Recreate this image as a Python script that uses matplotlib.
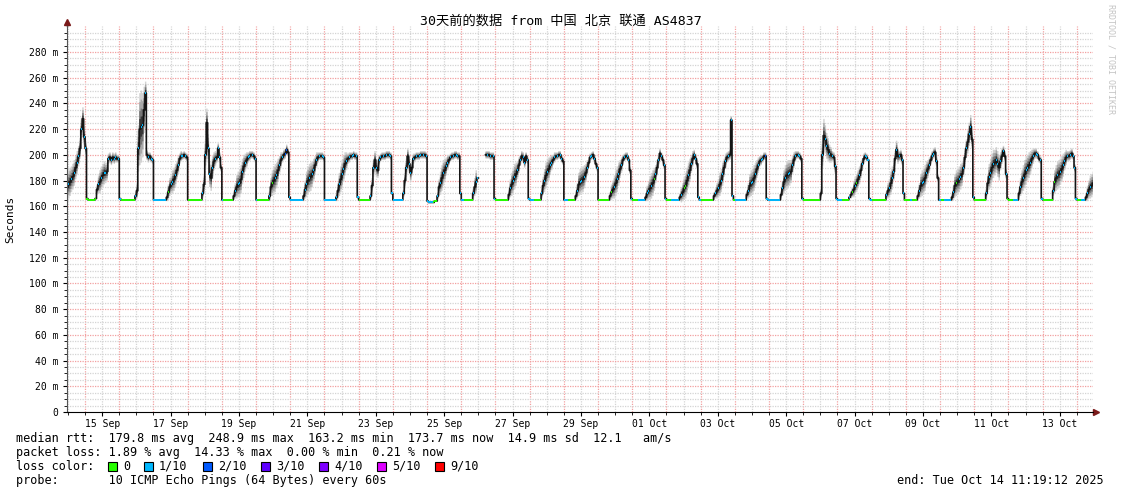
import numpy as np
import pandas as pd
import matplotlib
matplotlib.use('Agg')
import matplotlib.pyplot as plt
import matplotlib.dates as mdates
from matplotlib.collections import LineCollection
from matplotlib.patches import Rectangle

nan = np.nan

### data, hourly, first value = 14 Sep 11:00
# median rtt in ms
rtt_median = [
    175, 177, 179, 181, 183, 186, 190, 194, 199, 205, 220, 228, 214,  # 14 Sep 11h-23h
    205, 166, 165, 165, 165, 165, 165, 166, 173, 177, 179, 182, 184, 186, 186, 187, 197, 198, 196, 198, 197, 198, 197, 197,  # 15 Sep
    166, 165, 165, 165, 165, 165, 165, 165, 165, 165, 165, 168, 172, 205, 220, 222, 223, 235, 248, 200, 198, 199, 197, 196,  # 16 Sep
    165, 165, 165, 165, 165, 165, 165, 165, 165, 167, 171, 175, 177, 179, 181, 184, 188, 192, 197, 199, 199, 200, 199, 198,  # 17 Sep
    165, 165, 165, 165, 165, 165, 165, 165, 165, 165, 170, 177, 200, 225, 205, 185, 182, 190, 195, 197, 198, 205, 198, 190,  # 18 Sep
    165, 165, 165, 165, 165, 165, 165, 165, 168, 172, 175, 177, 178, 181, 187, 191, 194, 196, 198, 199, 200, 200, 199, 197,  # 19 Sep
    165, 165, 165, 165, 165, 165, 165, 165, 165, 168, 175, 178, 180, 182, 184, 188, 192, 196, 198, 200, 201, 204, 202, 167,  # 20 Sep
    165, 165, 165, 165, 165, 165, 165, 165, 165, 168, 173, 177, 180, 182, 183, 185, 188, 192, 196, 198, 199, 199, 199, 198,  # 21 Sep
    165, 165, 165, 165, 165, 165, 165, 165, 167, 172, 177, 181, 185, 189, 193, 195, 197, 198, 199, 199, 200, 199, 199, 167,  # 22 Sep
    165, 165, 165, 165, 165, 165, 165, 165, 168, 176, 190, 196, 190, 188, 196, 198, 199, 199, 199, 200, 200, 200, 199, 170,  # 23 Sep
    165, 165, 165, 165, 165, 165, 165, 170, 180, 190, 199, 193, 186, 190, 197, 198, 199, 199, 199, 200, 200, 200, 200, 199,  # 24 Sep
    164, 163, 163, 163, 163, 164, 164, 168, 175, 178, 182, 186, 188, 191, 194, 196, 198, 199, 199, 200, 200, 199, 199, 170,  # 25 Sep
    165, 165, 165, 165, 165, 165, 165, 165, 170, 175, 179, 182, nan, nan, nan, nan, nan, 200, 200, 200, 199, 199, 199, 166,  # 26 Sep
    165, 165, 165, 165, 165, 165, 165, 165, 165, 169, 174, 177, 180, 183, 185, 188, 192, 196, 199, 198, 194, 199, 196, 166,  # 27 Sep
    165, 165, 165, 165, 165, 165, 165, 165, 170, 176, 180, 184, 187, 189, 192, 194, 196, 198, 199, 199, 200, 200, 197, 195,  # 28 Sep
    165, 165, 165, 165, 165, 165, 165, 165, 168, 172, 177, 179, 180, 181, 183, 186, 190, 194, 198, 199, 200, 197, 193, 190,  # 29 Sep
    165, 165, 165, 165, 165, 165, 165, 165, 168, 171, 173, 175, 178, 181, 185, 189, 192, 196, 198, 199, 199, 196, 188, 166,  # 30 Sep
    165, 165, 165, 165, 165, 165, 165, 165, 165, 167, 170, 172, 174, 176, 178, 181, 185, 190, 196, 201, 199, 196, 192, 166,  # 01 Oct
    165, 165, 165, 165, 165, 165, 165, 165, 165, 167, 169, 171, 174, 176, 180, 184, 188, 193, 197, 200, 197, 193, 167, 165,  # 02 Oct
    165, 165, 165, 165, 165, 165, 165, 165, 165, 168, 170, 172, 174, 177, 180, 185, 190, 195, 198, 199, 200, 227, 168, 165,  # 03 Oct
    165, 165, 165, 165, 165, 165, 165, 165, 169, 172, 176, 178, 179, 182, 185, 189, 192, 195, 196, 197, 199, 199, 166, 165,  # 04 Oct
    165, 165, 165, 165, 165, 165, 165, 165, 169, 174, 179, 182, 184, 185, 186, 187, 192, 196, 199, 200, 200, 199, 197, 166,  # 05 Oct
    165, 165, 165, 165, 165, 165, 165, 165, 165, 165, 165, 165, 170, 200, 215, 212, 207, 204, 201, 200, 199, 198, 191, 166,  # 06 Oct
    165, 165, 165, 165, 165, 165, 165, 165, 167, 169, 171, 173, 176, 178, 181, 184, 188, 193, 197, 199, 198, 196, 166, 165,  # 07 Oct
    165, 165, 165, 165, 165, 165, 165, 165, 165, 165, 169, 172, 174, 178, 182, 187, 197, 204, 199, 199, 200, 196, 170, 165,  # 08 Oct
    165, 165, 165, 165, 165, 165, 165, 165, 168, 172, 176, 178, 179, 182, 186, 189, 192, 196, 199, 201, 202, 195, 182, 165,  # 09 Oct
    165, 165, 165, 165, 165, 165, 165, 165, 167, 171, 176, 178, 179, 181, 183, 185, 190, 198, 205, 210, 216, 222, 212, 167,  # 10 Oct
    165, 165, 165, 165, 165, 165, 165, 165, 170, 178, 183, 186, 190, 193, 194, 196, 193, 190, 195, 199, 203, 199, 185, 166,  # 11 Oct
    165, 165, 165, 165, 165, 165, 165, 170, 175, 179, 182, 185, 188, 190, 192, 194, 197, 199, 201, 201, 200, 197, 196, 166,  # 12 Oct
    165, 165, 165, 165, 165, 165, 165, 172, 179, 182, 184, 185, 187, 189, 192, 195, 198, 199, 199, 200, 201, 199, 190, 166,  # 13 Oct
    165, 165, 165, 165, 165, 165, 167, 170, 173, 175, 176, 178,  # 14 Oct 0h-11h
]

# half width of the smoke (spread of the 10 pings) in ms
smoke_spread = [
    11, 11, 11, 10, 10, 10, 9, 9, 8, 8, 9, 9, 8,
    6, 0.5, 0.5, 0.5, 0.5, 0.5, 0.5, 0.5, 4, 7, 9, 9, 9, 9, 8, 7, 4, 4, 4, 4, 4, 4, 3, 3,
    0.5, 0.5, 0.5, 0.5, 0.5, 0.5, 0.5, 0.5, 0.5, 0.5, 0.5, 3, 6, 18, 28, 28, 25, 18, 9, 4, 4, 3, 3, 3,
    0.5, 0.5, 0.5, 0.5, 0.5, 0.5, 0.5, 0.5, 0.5, 3, 6, 7, 7, 9, 9, 9, 7, 7, 4, 4, 3, 3, 3, 3,
    0.5, 0.5, 0.5, 0.5, 0.5, 0.5, 0.5, 0.5, 0.5, 0.5, 4, 7, 11, 11, 11, 10, 10, 9, 7, 6, 4, 4, 4, 3,
    0.5, 0.5, 0.5, 0.5, 0.5, 0.5, 0.5, 0.5, 3, 6, 9, 10, 11, 11, 10, 9, 7, 6, 4, 4, 3, 3, 3, 3,
    0.5, 0.5, 0.5, 0.5, 0.5, 0.5, 0.5, 0.5, 0.5, 4, 7, 10, 11, 11, 10, 9, 7, 6, 4, 4, 4, 4, 3, 1,
    0.5, 0.5, 0.5, 0.5, 0.5, 0.5, 0.5, 0.5, 0.5, 4, 7, 10, 11, 11, 11, 10, 9, 7, 6, 4, 3, 3, 3, 3,
    0.5, 0.5, 0.5, 0.5, 0.5, 0.5, 0.5, 0.5, 3, 6, 9, 10, 11, 10, 9, 7, 4, 4, 3, 3, 3, 3, 3, 1,
    0.5, 0.5, 0.5, 0.5, 0.5, 0.5, 0.5, 0.5, 3, 6, 7, 7, 7, 6, 4, 3, 3, 3, 3, 3, 3, 3, 3, 1,
    0.5, 0.5, 0.5, 0.5, 0.5, 0.5, 0.5, 3, 6, 7, 6, 7, 7, 6, 4, 3, 3, 3, 3, 3, 3, 3, 3, 3,
    0.5, 0.5, 0.5, 0.5, 0.5, 0.5, 0.5, 3, 6, 9, 10, 10, 9, 7, 6, 4, 3, 3, 3, 3, 3, 3, 3, 1,
    0.5, 0.5, 0.5, 0.5, 0.5, 0.5, 0.5, 0.5, 4, 7, 9, 10, 0, 0, 0, 0, 0, 3, 3, 3, 3, 3, 3, 1,
    0.5, 0.5, 0.5, 0.5, 0.5, 0.5, 0.5, 0.5, 0.5, 4, 7, 9, 10, 10, 9, 7, 6, 4, 4, 4, 4, 3, 3, 1,
    0.5, 0.5, 0.5, 0.5, 0.5, 0.5, 0.5, 0.5, 4, 7, 9, 10, 10, 9, 7, 6, 4, 4, 3, 3, 3, 3, 3, 3,
    0.5, 0.5, 0.5, 0.5, 0.5, 0.5, 0.5, 0.5, 3, 6, 9, 10, 10, 10, 9, 7, 6, 4, 3, 3, 3, 3, 3, 3,
    0.5, 0.5, 0.5, 0.5, 0.5, 0.5, 0.5, 0.5, 3, 6, 7, 9, 10, 10, 9, 7, 6, 4, 3, 3, 3, 3, 3, 1,
    0.5, 0.5, 0.5, 0.5, 0.5, 0.5, 0.5, 0.5, 0.5, 3, 6, 7, 9, 10, 10, 9, 7, 6, 4, 4, 3, 3, 3, 1,
    0.5, 0.5, 0.5, 0.5, 0.5, 0.5, 0.5, 0.5, 0.5, 3, 6, 7, 9, 10, 10, 10, 9, 7, 6, 4, 4, 4, 1, 0.5,
    0.5, 0.5, 0.5, 0.5, 0.5, 0.5, 0.5, 0.5, 0.5, 3, 4, 6, 7, 9, 9, 9, 7, 6, 4, 4, 4, 3, 1, 0.5,
    0.5, 0.5, 0.5, 0.5, 0.5, 0.5, 0.5, 0.5, 3, 6, 9, 10, 10, 10, 9, 7, 6, 4, 4, 3, 3, 3, 1, 0.5,
    0.5, 0.5, 0.5, 0.5, 0.5, 0.5, 0.5, 0.5, 3, 6, 9, 10, 11, 11, 10, 9, 7, 6, 4, 3, 3, 3, 3, 1,
    0.5, 0.5, 0.5, 0.5, 0.5, 0.5, 0.5, 0.5, 0.5, 0.5, 0.5, 0.5, 4, 11, 13, 11, 10, 9, 7, 6, 4, 4, 6, 1,
    0.5, 0.5, 0.5, 0.5, 0.5, 0.5, 0.5, 0.5, 0.5, 3, 4, 6, 7, 7, 7, 7, 6, 4, 4, 3, 3, 1, 0.5, 0.5,
    0.5, 0.5, 0.5, 0.5, 0.5, 0.5, 0.5, 0.5, 0.5, 0.5, 3, 6, 7, 9, 9, 7, 6, 7, 6, 4, 4, 4, 1, 0.5,
    0.5, 0.5, 0.5, 0.5, 0.5, 0.5, 0.5, 0.5, 3, 6, 9, 10, 10, 10, 9, 7, 6, 4, 4, 4, 4, 4, 3, 1,
    0.5, 0.5, 0.5, 0.5, 0.5, 0.5, 0.5, 0.5, 3, 6, 9, 10, 10, 10, 10, 9, 7, 7, 7, 9, 9, 9, 7, 1,
    0.5, 0.5, 0.5, 0.5, 0.5, 0.5, 0.5, 0.5, 4, 7, 10, 11, 11, 11, 10, 10, 10, 10, 7, 6, 4, 4, 4, 1,
    0.5, 0.5, 0.5, 0.5, 0.5, 0.5, 0.5, 4, 7, 9, 10, 11, 11, 10, 10, 9, 7, 6, 4, 4, 3, 3, 3, 1,
    0.5, 0.5, 0.5, 0.5, 0.5, 0.5, 0.5, 4, 9, 10, 11, 11, 10, 10, 9, 7, 6, 4, 4, 4, 4, 3, 3, 1,
    0.5, 0.5, 0.5, 0.5, 0.5, 0.5, 3, 6, 7, 9, 9, 9,
]

# lost pings out of 10 (0 = green, 1 = cyan, 2 = blue)
loss_level = [
    1, 1, 1, 1, 1, 1, 1, 1, 1, 1, 1, 1, 1,
    1, 0, 0, 0, 0, 0, 0, 0, 1, 1, 0, 1, 1, 1, 1, 1, 1, 1, 1, 1, 1, 1, 1, 1,
    1, 0, 0, 0, 0, 0, 0, 0, 0, 0, 0, 1, 1, 1, 1, 1, 1, 1, 1, 1, 1, 1, 1, 1,
    1, 1, 1, 1, 1, 1, 1, 1, 1, 1, 0, 1, 1, 1, 1, 1, 1, 1, 1, 1, 1, 1, 1, 1,
    0, 0, 0, 0, 0, 0, 0, 0, 0, 0, 1, 0, 1, 1, 1, 1, 1, 1, 1, 1, 1, 1, 1, 1,
    1, 0, 0, 0, 0, 0, 0, 0, 1, 1, 1, 1, 1, 1, 1, 1, 1, 1, 1, 1, 1, 1, 1, 1,
    1, 0, 0, 0, 0, 0, 0, 0, 0, 1, 1, 0, 0, 1, 1, 1, 1, 1, 1, 1, 2, 2, 1, 1,
    1, 1, 1, 1, 1, 1, 1, 1, 1, 1, 1, 1, 1, 1, 1, 1, 1, 1, 1, 1, 1, 1, 1, 1,
    1, 1, 1, 1, 1, 1, 1, 1, 1, 1, 1, 1, 1, 1, 1, 1, 1, 1, 1, 1, 1, 1, 1, 1,
    0, 0, 0, 0, 0, 0, 0, 0, 1, 1, 1, 1, 1, 1, 1, 1, 1, 1, 1, 1, 1, 1, 1, 1,
    1, 1, 1, 1, 1, 1, 1, 1, 1, 1, 1, 1, 1, 1, 1, 1, 1, 1, 1, 1, 1, 1, 1, 1,
    1, 1, 1, 1, 0, 0, 0, 1, 1, 1, 1, 1, 1, 1, 1, 1, 1, 1, 1, 1, 1, 1, 1, 1,
    1, 1, 0, 0, 0, 0, 0, 0, 1, 1, 1, 1, 1, 1, 1, 1, 1, 1, 1, 1, 1, 1, 1, 1,
    0, 0, 0, 0, 0, 0, 0, 0, 0, 1, 1, 1, 1, 1, 1, 1, 1, 1, 1, 1, 1, 1, 1, 1,
    1, 1, 1, 0, 0, 0, 0, 0, 1, 0, 1, 1, 1, 1, 1, 1, 1, 1, 1, 1, 1, 1, 1, 1,
    1, 1, 1, 0, 0, 0, 0, 0, 1, 1, 1, 1, 1, 1, 1, 1, 1, 1, 1, 1, 1, 1, 1, 1,
    0, 0, 0, 0, 0, 0, 0, 0, 1, 0, 1, 1, 1, 1, 1, 1, 1, 1, 1, 1, 1, 1, 1, 1,
    0, 0, 0, 0, 1, 1, 1, 1, 1, 1, 1, 1, 0, 1, 1, 0, 1, 1, 1, 1, 1, 1, 1, 1,
    0, 0, 0, 1, 1, 1, 1, 1, 1, 1, 1, 1, 0, 0, 1, 1, 1, 1, 1, 1, 1, 1, 1, 1,
    0, 0, 0, 0, 0, 0, 0, 0, 0, 1, 1, 1, 1, 0, 1, 1, 1, 1, 1, 1, 1, 1, 1, 0,
    1, 1, 1, 1, 1, 1, 1, 1, 1, 1, 1, 1, 1, 1, 1, 1, 1, 1, 1, 1, 2, 2, 1, 1,
    1, 1, 1, 1, 1, 1, 1, 1, 0, 1, 1, 1, 1, 1, 1, 1, 1, 1, 1, 1, 1, 1, 1, 1,
    0, 0, 0, 0, 0, 0, 0, 0, 0, 0, 0, 0, 1, 1, 1, 1, 1, 1, 1, 1, 1, 1, 1, 1,
    1, 1, 1, 0, 0, 0, 0, 0, 1, 1, 0, 1, 1, 0, 1, 1, 1, 1, 1, 1, 1, 1, 1, 1,
    0, 0, 0, 0, 0, 0, 0, 0, 0, 0, 1, 0, 1, 1, 1, 1, 1, 1, 1, 1, 1, 1, 1, 0,
    0, 0, 0, 1, 0, 0, 0, 0, 1, 1, 1, 1, 1, 1, 1, 1, 1, 1, 1, 1, 1, 1, 1, 1,
    1, 0, 0, 1, 1, 1, 1, 1, 1, 1, 1, 0, 1, 1, 1, 1, 1, 1, 1, 1, 1, 1, 1, 1,
    0, 0, 0, 0, 0, 0, 0, 0, 1, 0, 1, 1, 1, 1, 1, 1, 1, 1, 1, 1, 1, 1, 1, 0,
    0, 0, 0, 1, 1, 1, 1, 1, 1, 1, 1, 1, 1, 1, 1, 1, 1, 1, 1, 1, 1, 1, 1, 1,
    0, 0, 0, 0, 0, 0, 0, 1, 0, 1, 1, 1, 1, 1, 1, 1, 1, 1, 1, 1, 1, 1, 1, 1,
    0, 0, 0, 1, 1, 1, 1, 1, 1, 1, 1, 1,
]

# legend
loss_names = ['0', '1/10', '2/10', '3/10', '4/10', '5/10', '9/10']
loss_colors = ['#26ff00', '#00b8ff', '#0059ff', '#5e00ff', '#7e00ff', '#dd00ff', '#ff0000']
ytick_values = [0, 20, 40, 60, 80, 100, 120, 140, 160, 180, 200, 220, 240, 260, 280]
ytick_labels = ['0', '20 m', '40 m', '60 m', '80 m', '100 m', '120 m', '140 m', '160 m',
                '180 m', '200 m', '220 m', '240 m', '260 m', '280 m']
xtick_labels = ['15 Sep', '17 Sep', '19 Sep', '21 Sep', '23 Sep', '25 Sep', '27 Sep', '29 Sep',
                '01 Oct', '03 Oct', '05 Oct', '07 Oct', '09 Oct', '11 Oct', '13 Oct']

title = '30天前的数据 from 中国 北京 联通 AS4837'
stats_rtt = 'median rtt:  179.8 ms avg  248.9 ms max  163.2 ms min  173.7 ms now  14.9 ms sd  12.1   am/s'
stats_loss = 'packet loss: 1.89 % avg  14.33 % max  0.00 % min  0.21 % now'
probe_text = 'probe:       10 ICMP Echo Pings (64 Bytes) every 60s'
end_text = 'end: Tue Oct 14 11:19:12 2025'

assert len(rtt_median) == len(smoke_spread) == len(loss_level) == 721

### plot
W, H = 1121, 494
plt.rcParams['font.family'] = ['DejaVu Sans Mono', 'Noto Sans CJK SC']

t_start = pd.Timestamp('2025-09-14 11:19:12')
t_end = pd.Timestamp('2025-10-14 11:19:12')
times = pd.date_range('2025-09-14 11:00', periods=len(rtt_median) + 1, freq='h')
x = mdates.date2num(times.to_pydatetime())
med = np.array(rtt_median, dtype=float)
spr = np.array(smoke_spread, dtype=float)
med_e = np.append(med, med[-1])
spr_e = np.append(spr, spr[-1])
hour = 1 / 24

fig = plt.figure(figsize=(W / 100, H / 100), dpi=100)
ax = fig.add_axes([67 / W, (H - 412) / H, (1093 - 67) / W, (412 - 26.3) / H])
ax.set_xlim(mdates.date2num(t_start), mdates.date2num(t_end))
ax.set_ylim(0, 300)

# grid
dash = (0, (1, 1))
for d in pd.date_range('2025-09-14 12:00', '2025-10-14 00:00', freq='12h'):
    red = d.hour == 0
    ax.axvline(mdates.date2num(d), color='#f2a0a0' if red else '#d4d4d4', lw=0.9, ls=dash, zorder=0)
for v in range(5, 300, 5):
    red = v % 20 == 0
    ax.axhline(v, color='#f2a0a0' if red else '#d4d4d4', lw=0.9, ls=dash, zorder=0)

# smoke, lighter outside, darker near the median
for k, c in zip([1.0, 0.75, 0.5, 0.28], ['#d2d2d2', '#a8a8a8', '#777777', '#383838']):
    ax.fill_between(x, med_e - k * spr_e, med_e + k * spr_e, step='post', color=c, lw=0, zorder=2)

# median
ax.step(x, med_e, where='post', color='#141414', lw=1.2, zorder=3)
segs, cols = [], []
for i in range(len(med)):
    if np.isnan(med[i]):
        continue
    if spr[i] <= 1:
        segs.append([(x[i], med[i]), (x[i + 1], med[i])])
    else:
        segs.append([(x[i] + 0.3 * hour, med[i]), (x[i + 1] - 0.3 * hour, med[i])])
    cols.append(loss_colors[loss_level[i]])
ax.add_collection(LineCollection(segs, colors=cols, linewidths=1.4, zorder=4))

# axes
for s in ['top', 'right']:
    ax.spines[s].set_visible(False)
ax.spines['left'].set_color('#555555')
ax.spines['bottom'].set_color('black')
ax.spines['left'].set_zorder(5)
ax.spines['bottom'].set_zorder(5)
ax.plot([0, 0], [1, 1.01], color='#555555', lw=1, transform=ax.transAxes, clip_on=False)
ax.plot([0], [1.011], marker='^', ms=5, color='#7a1a1a', transform=ax.transAxes, clip_on=False)
ax.plot([1, 1.002], [0, 0], color='black', lw=1, transform=ax.transAxes, clip_on=False)
ax.plot([1.0025], [0], marker='>', ms=5, color='#7a1a1a', transform=ax.transAxes, clip_on=False)

ax.set_yticks(ytick_values)
ax.set_yticklabels(ytick_labels)
ax.set_yticks(range(5, 300, 5), minor=True)
xt = [mdates.date2num(pd.Timestamp(lab + ' 2025 12:00')) for lab in xtick_labels]
ax.set_xticks(xt)
ax.set_xticklabels(xtick_labels)
ax.set_xticks(mdates.date2num(pd.date_range('2025-09-14 12:00', '2025-10-14 00:00', freq='12h').to_pydatetime()), minor=True)
ax.tick_params(axis='y', which='major', length=3, width=0.8, pad=3, labelsize=7)
ax.tick_params(axis='y', which='minor', length=2, width=0.6)
ax.tick_params(axis='x', which='major', length=3, width=0.8, pad=2, labelsize=7)
ax.tick_params(axis='x', which='minor', length=2, width=0.6)

# texts
def fx(px):
    return px / W

def fy(py):
    return 1 - py / H

fig.text(fx(560.5), fy(21), title, ha='center', va='center', fontsize=9.5)
fig.text(fx(10), fy(219), 'Seconds', rotation=90, ha='center', va='center', fontsize=8)
fig.text(fx(1111), fy(4), 'RRDTOOL / TOBI OETIKER', rotation=270, ha='center', va='top',
         fontsize=6, color='#c4c4c4')

fig.text(fx(16), fy(438), stats_rtt, ha='left', va='center', fontsize=8.5)
fig.text(fx(16), fy(452), stats_loss, ha='left', va='center', fontsize=8.5)
fig.text(fx(16), fy(466), 'loss color:', ha='left', va='center', fontsize=8.5)
box_left = [108, 144, 203, 261, 319, 377, 435]
for bx, name, c in zip(box_left, loss_names, loss_colors):
    fig.patches.append(Rectangle((fx(bx), fy(470.5)), 9 / W, 9 / H, transform=fig.transFigure,
                                 facecolor=c, edgecolor='black', lw=0.8))
    fig.text(fx(bx + 15), fy(466), name, ha='left', va='center', fontsize=8.5)
fig.text(fx(16), fy(480), probe_text, ha='left', va='center', fontsize=8.5)
fig.text(fx(1104), fy(480), end_text, ha='right', va='center', fontsize=8.5)

fig.savefig('out.png', dpi=100, facecolor='white')
